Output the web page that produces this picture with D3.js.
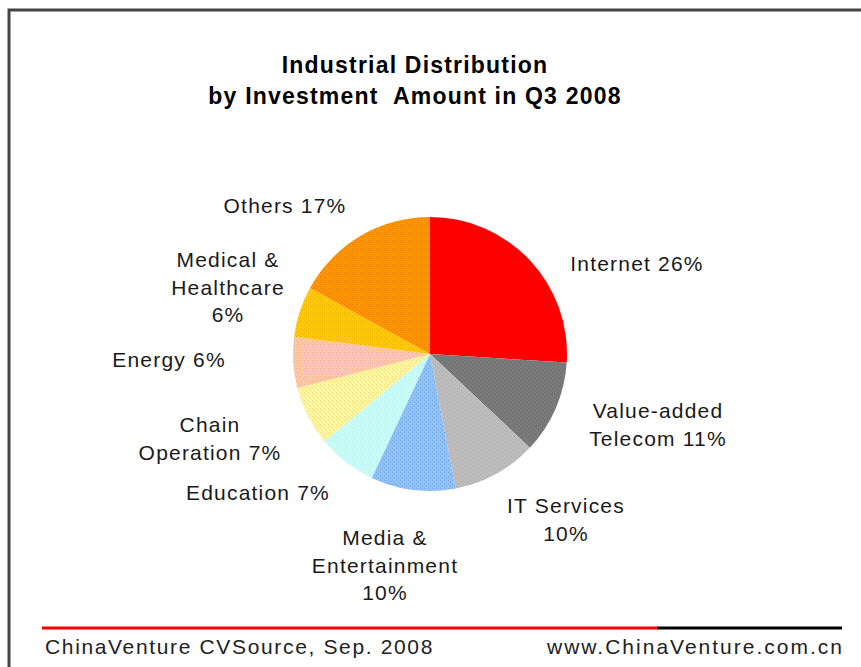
<!DOCTYPE html>
<html>
<head>
<meta charset="utf-8">
<script src="https://cdn.jsdelivr.net/npm/d3@7/dist/d3.min.js"></script>
<style>
  html, body { margin: 0; padding: 0; background: #fff; }
  svg { display: block; }
  text { font-family: "Liberation Sans", Arial, sans-serif; }
</style>
</head>
<body>
<svg id="chart" width="861" height="667"></svg>
<script>
// ---- Data ----
const categories = ["Internet", "Value-added Telecom", "IT Services", "Media & Entertainment",
  "Education", "Chain Operation", "Energy", "Medical & Healthcare", "Others"];
const values = [26, 11, 10, 10, 7, 7, 6, 6, 17];
const titleLines = ["Industrial Distribution", "by Investment  Amount in Q3 2008"];
const sourceText = "ChinaVenture CVSource, Sep. 2008";
const siteText = "www.ChinaVenture.com.cn";

// ---- Styles / layout ----
const colors = ["#ff0000", "#7a7a7a", "#bab8ba", "#8ec2f4", "#c9fcf7", "#fdf59c", "#fdc89c", "#ffcb05", "#fd9600"];
const dotColors = ["none", "#6e6e6e", "#c2c8bf", "#7aa8e8", "#b6f0ee", "#eee08a", "#eab4a8", "#f0a800", "#e87c00"];
// how each label is broken into lines ("%" = percentage)
const labelLines = [
  ["Internet %"], ["Value-added", "Telecom %"], ["IT Services", "%"], ["Media &", "Entertainment", "%"],
  ["Education %"], ["Chain", "Operation %"], ["Energy %"], ["Medical &", "Healthcare", "%"], ["Others %"]
];
// label anchor (center x, first baseline) relative to pie centre
const labelOffsets = [[207, -83], [228, 64], [136, 159], [-45, 191], [-172, 146],
  [-220, 78], [-261, 13], [-202, -87], [-145, -141]];
const cx = 430, cy = 354, radius = 137, lineH = 27.5;

const svg = d3.select("#chart");

// dot textures
const defs = svg.append("defs");
colors.forEach((c, i) => {
  const p = defs.append("pattern").attr("id", "pat" + i).attr("patternUnits", "userSpaceOnUse")
    .attr("width", 4).attr("height", 4);
  p.append("rect").attr("width", 4).attr("height", 4).attr("fill", c);
  if (dotColors[i] !== "none") {
    p.append("rect").attr("x", 0).attr("y", 0).attr("width", 1).attr("height", 1).attr("fill", dotColors[i]);
    p.append("rect").attr("x", 2).attr("y", 2).attr("width", 1).attr("height", 1).attr("fill", dotColors[i]);
  }
});

// border
svg.append("path").attr("d", "M9,667 V10 H861").attr("fill", "none")
  .attr("stroke", "#444").attr("stroke-width", 3);

// title
const title = svg.append("text").attr("text-anchor", "middle")
  .attr("font-weight", "bold").attr("font-size", 23).attr("letter-spacing", 1.2).attr("fill", "#000");
titleLines.forEach((t, i) => title.append("tspan").attr("x", 415).attr("y", 73 + i * 30.5)
  .style("white-space", "pre").text(t));

// pie
const total = d3.sum(values);
const pie = d3.pie().sort(null).value(d => d)(values);
const arc = d3.arc().innerRadius(0).outerRadius(radius);
const g = svg.append("g").attr("transform", `translate(${cx},${cy})`);
g.selectAll("path.slice").data(pie).join("path").attr("class", "slice")
  .attr("d", arc).attr("fill", (d, i) => `url(#pat${i})`);

// labels
const fmt = v => Math.round(v / total * 100) + "%";
const labels = g.selectAll("text.lbl").data(pie).join("text").attr("class", "lbl")
  .attr("text-anchor", "middle").attr("font-size", 21).attr("letter-spacing", 1.2)
  .attr("fill", "#1a1a1a");
labels.each(function (d, i) {
  const t = d3.select(this);
  const [ox, oy] = labelOffsets[i];
  labelLines[i].forEach((ln, j) => {
    t.append("tspan").attr("x", ox).attr("y", oy + j * lineH)
      .text(ln.replace("%", fmt(d.data)));
  });
});

// footer
svg.append("line").attr("x1", 42).attr("x2", 658).attr("y1", 628).attr("y2", 628)
  .attr("stroke", "#ff0000").attr("stroke-width", 3);
svg.append("line").attr("x1", 657).attr("x2", 842).attr("y1", 628).attr("y2", 628)
  .attr("stroke", "#000").attr("stroke-width", 3);
svg.append("text").attr("x", 45).attr("y", 654).attr("font-size", 21).attr("letter-spacing", 1.65)
  .attr("fill", "#222").text(sourceText);
svg.append("text").attr("x", 844).attr("y", 654).attr("text-anchor", "end").attr("font-size", 21)
  .attr("letter-spacing", 2.0).attr("fill", "#222").text(siteText);
</script>
</body>
</html>
